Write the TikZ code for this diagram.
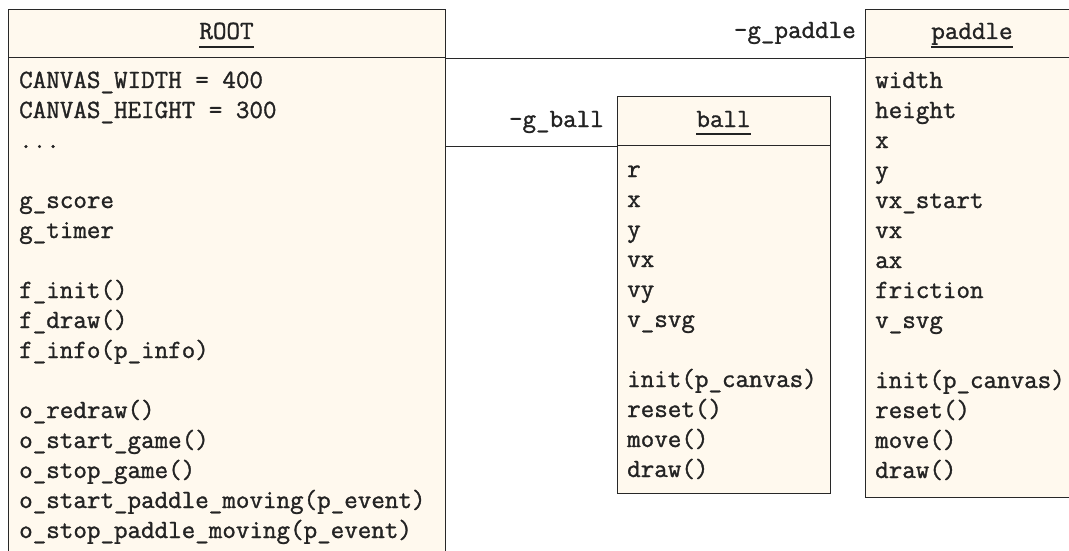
\documentclass[tikz,border=0pt]{standalone}
\usepackage{fontspec}
\setmonofont{Latin Modern Mono}[FakeBold=1.2]
\definecolor{boxfill}{RGB}{255,249,238}
\definecolor{boxline}{RGB}{40,40,40}
\definecolor{txtcol}{RGB}{35,35,35}
\newcommand\umlfont{\ttfamily\fontsize{26.3}{30}\selectfont}
\newcommand\umldots{...}
\begin{document}
\begin{tikzpicture}[x=1pt,y=-1pt,
  umlbox/.style={draw=boxline, fill=boxfill, line width=1.4pt, rectangle, anchor=north west, inner sep=0pt},
  txt/.style={font=\umlfont, text=txtcol, inner sep=0pt, anchor=base west},
  ttl/.style={font=\umlfont, text=txtcol, inner sep=0pt, anchor=base},
  ul/.style={draw=txtcol, line width=1.6pt},
  conn/.style={draw=boxline, line width=1.4pt}]
\useasboundingbox (0,0) rectangle (1069,551);
\clip (0,0) rectangle (1069,551);
% ROOT
\node[umlbox, minimum width=437pt, minimum height=48pt] (rootH) at (8,9) {};
\node[umlbox, minimum width=437pt, minimum height=520pt] (rootB) at (8,57) {};
\node[ttl] (rootT) at (226.5,39) {ROOT};
\draw[ul] ([yshift=-8pt]rootT.base west) -- ([yshift=-8pt]rootT.base east);
\foreach \i/\t in {0/CANVAS\_WIDTH = 400, 1/CANVAS\_HEIGHT = 300, 2/\umldots, 4/g\_score, 5/g\_timer,
  7/f\_init(), 8/f\_draw(), 9/f\_info(p\_info), 11/o\_redraw(), 12/o\_start\_game(),
  13/o\_stop\_game(), 14/o\_start\_paddle\_moving(p\_event), 15/o\_stop\_paddle\_moving(p\_event)}
  {\node[txt] (r\i) at (19,88+30*\i) {\t};}
% ball
\node[umlbox, minimum width=213pt, minimum height=49pt] (ballH) at (617,96) {};
\node[umlbox, minimum width=213pt, minimum height=348pt] (ballB) at (617,145) {};
\node[ttl] (ballT) at (723.5,127) {ball};
\draw[ul] ([yshift=-7pt]ballT.base west) -- ([yshift=-7pt]ballT.base east);
\foreach \i/\t in {0/r, 1/x, 2/y, 3/vx, 4/vy, 5/v\_svg, 7/init(p\_canvas), 8/reset(), 9/move(), 10/draw()}
  {\node[txt] (b\i) at (627,177+30*\i) {\t};}
% paddle
\node[umlbox, minimum width=214pt, minimum height=48pt] (padH) at (865,9) {};
\node[umlbox, minimum width=214pt, minimum height=440pt] (padB) at (865,57) {};
\node[ttl] (padT) at (972,39) {paddle};
\draw[ul] ([yshift=-8pt]padT.base west) -- ([yshift=-8pt]padT.base east);
\foreach \i/\t in {0/width, 1/height, 2/x, 3/y, 4/vx\_start, 5/vx, 6/ax, 7/friction, 8/v\_svg,
  10/init(p\_canvas), 11/reset(), 12/move(), 13/draw()}
  {\node[txt] (p\i) at (875,88+30*\i) {\t};}
% connectors
\draw[conn] (rootH.south east) -- (padH.south west);
\draw[conn] (ballH.south west -| rootB.east) -- (ballH.south west);
\node[txt, anchor=base east] (lblPad) at (856,38) {-g\_paddle};
\node[txt, anchor=base east] (lblBall) at (604,127) {-g\_ball};
\end{tikzpicture}
\end{document}
